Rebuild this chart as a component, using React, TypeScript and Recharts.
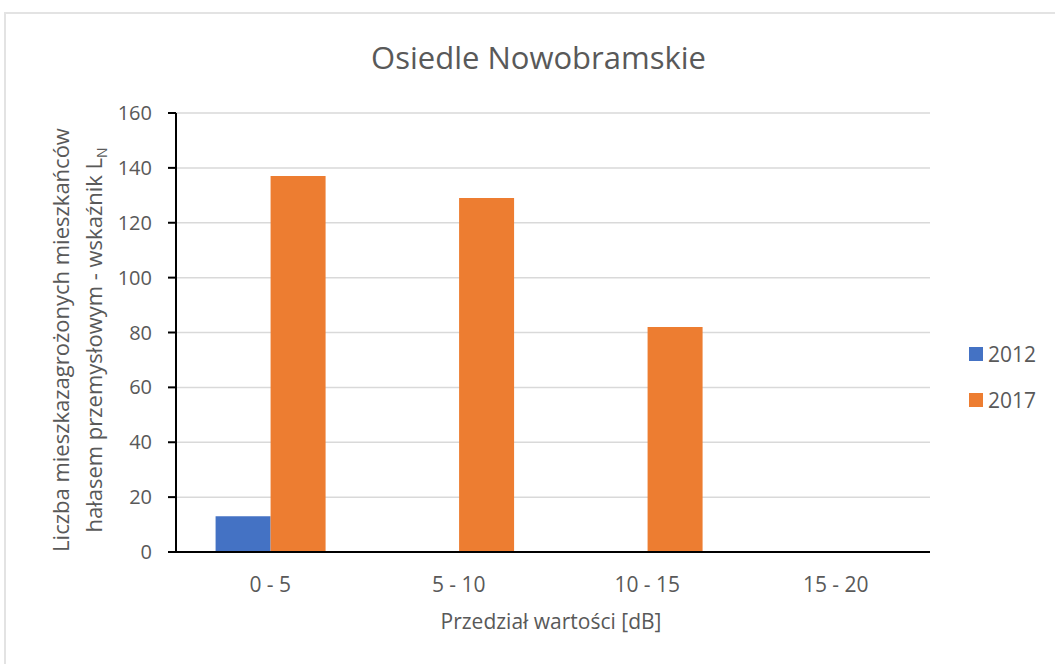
import { BarChart, Bar, XAxis, YAxis, CartesianGrid } from "recharts";

const categories = ["0 - 5", "5 - 10", "10 - 15", "15 - 20"];
const values2012 = [13, 0, 0, 0];
const values2017 = [137, 129, 82, 0];
const yTicks = [0, 20, 40, 60, 80, 100, 120, 140, 160];

const BLUE = "#4472C4";
const ORANGE = "#ED7D31";
const TEXT = "#595959";
const FONT = "'Open Sans', sans-serif";

const data = categories.map((c, i) => ({ cat: c, y2012: values2012[i], y2017: values2017[i] }));

// Two-line rotated label with a subscript N
function YLabel() {
  const cy = 340;
  return (
    <g fill={TEXT} fontFamily={FONT} fontSize={22} textAnchor="middle">
      <text transform={`translate(61, ${cy}) rotate(-90)`} dy="0.35em">
        Liczba mieszkazagrożonych mieszkańców
      </text>
      <text transform={`translate(94, ${cy}) rotate(-90)`} dy="0.35em">
        hałasem przemysłowym - wskaźnik L
        <tspan fontSize={14} dy="5">N</tspan>
      </text>
    </g>
  );
}

const legendItems = [
  { name: "2012", color: BLUE },
  { name: "2017", color: ORANGE },
];

export default function App() {
  return (
    <div style={{ position: "absolute", left: 0, top: 0, width: 1055, height: 664, background: "#fff", overflow: "hidden" }}>
      <div style={{ position: "absolute", left: 4, top: 12, width: 1100, height: 700, border: "2px solid #e3e3e3" }} />
      <div
        style={{
          position: "absolute",
          left: 0,
          width: 1077,
          top: 36,
          textAlign: "center",
          fontFamily: FONT,
          fontSize: 31,
          color: TEXT,
        }}
      >
        Osiedle Nowobramskie
      </div>
      <div
        style={{
          position: "absolute",
          left: 0,
          width: 1102,
          top: 607,
          textAlign: "center",
          fontFamily: FONT,
          fontSize: 21,
          color: TEXT,
        }}
      >
        Przedział wartości [dB]
      </div>
      <div style={{ position: "absolute", left: 0, top: 0 }}>
        <BarChart
          width={1055}
          height={664}
          data={data}
          margin={{ top: 113, right: 125, bottom: 72, left: 116 }}
          barCategoryGap="21%"
          barGap={0}
        >
          <CartesianGrid vertical={false} stroke="#d9d9d9" strokeWidth={1.5} />
          <XAxis
            dataKey="cat"
            axisLine={{ stroke: "#000", strokeWidth: 2 }}
            tickLine={false}
            tickMargin={19}
            tick={{ fill: TEXT, fontSize: 21, fontFamily: FONT }}
            height={40}
          />
          <YAxis
            width={60}
            domain={[0, 160]}
            ticks={yTicks}
            interval={0}
            axisLine={{ stroke: "#000", strokeWidth: 2 }}
            tickLine={{ stroke: "#000", strokeWidth: 2 }}
            tickSize={8}
            tickMargin={16}
            tick={{ fill: TEXT, fontSize: 20, fontFamily: FONT }}
          />
          <Bar dataKey="y2012" name="2012" fill={BLUE} isAnimationActive={false} />
          <Bar dataKey="y2017" name="2017" fill={ORANGE} isAnimationActive={false} />
          <YLabel />
        </BarChart>
      </div>
      <div style={{ position: "absolute", left: 969, top: 331, fontFamily: FONT, fontSize: 21, color: TEXT }}>
        {legendItems.map((it) => (
          <div key={it.name} style={{ display: "flex", alignItems: "center", height: 46 }}>
            <span style={{ width: 14, height: 14, background: it.color, display: "inline-block", marginRight: 5 }} />
            {it.name}
          </div>
        ))}
      </div>
    </div>
  );
}
